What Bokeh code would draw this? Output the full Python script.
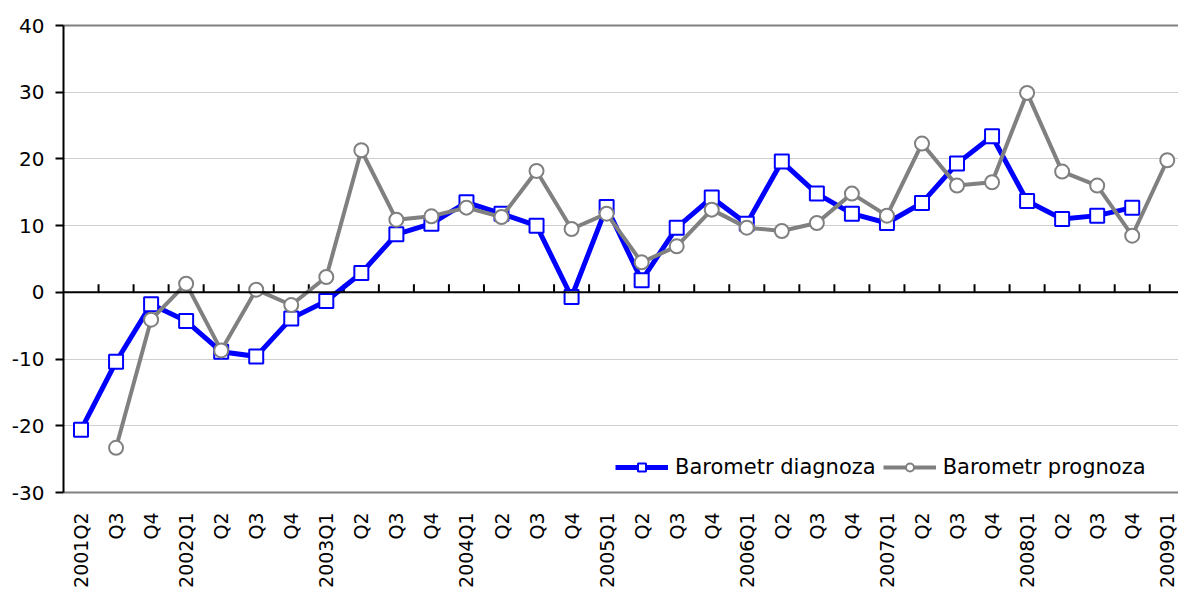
import math
from bokeh.plotting import figure
from bokeh.models import (Range1d, LinearAxis, FixedTicker, Legend, LegendItem, Span)
from bokeh.embed import file_html
from bokeh.resources import INLINE

categories = ["2001Q2", "Q3", "Q4", "2002Q1", "Q2", "Q3", "Q4", "2003Q1", "Q2", "Q3", "Q4",
              "2004Q1", "Q2", "Q3", "Q4", "2005Q1", "Q2", "Q3", "Q4", "2006Q1", "Q2", "Q3", "Q4",
              "2007Q1", "Q2", "Q3", "Q4", "2008Q1", "Q2", "Q3", "Q4", "2009Q1"]

nan = float("nan")
diagnoza = [-20.6, -10.4, -1.8, -4.3, -8.9, -9.6, -3.9, -1.3, 2.9, 8.7, 10.3,
            13.5, 11.8, 10.0, -0.7, 12.8, 1.8, 9.7, 14.2, 10.3, 19.6, 14.8, 11.8,
            10.4, 13.4, 19.3, 23.4, 13.7, 11.0, 11.5, 12.7, nan]
prognoza = [nan, -23.3, -4.1, 1.3, -8.7, 0.4, -1.9, 2.3, 21.3, 10.9, 11.4,
            12.7, 11.3, 18.2, 9.5, 11.8, 4.5, 6.9, 12.4, 9.7, 9.2, 10.4, 14.8,
            11.5, 22.3, 16.0, 16.5, 29.9, 18.1, 16.0, 8.5, 19.8]
y_ticks = [-30, -20, -10, 0, 10, 20, 30, 40]
y_tick_labels = ["-30", "-20", "-10", "0", "10", "20", "30", "40"]
series_names = ["Barometr diagnoza", "Barometr prognoza"]

FONT = "DejaVu Sans"
n = len(categories)
xs = [i + 0.5 for i in range(n)]
bounds = list(range(1, n))

FRAME_W, FRAME_H = 1115, 467
Y0, Y1 = -30, 40

p = figure(frame_width=FRAME_W, frame_height=FRAME_H, output_backend="svg", toolbar_location=None,
           x_range=Range1d(0, FRAME_W / 35.04), y_range=Range1d(Y0, Y1),
           x_axis_location=None, y_axis_location=None,
           min_border_left=63, min_border_top=25, min_border_right=0, min_border_bottom=0)
p.background_fill_color = "white"
p.border_fill_color = "white"
p.outline_line_color = None
p.xgrid.visible = False
p.ygrid.ticker = FixedTicker(ticks=y_ticks)
p.ygrid.grid_line_color = "#cfcfcf"
p.ygrid.grid_line_width = 1

# y axis
yax = LinearAxis(ticker=FixedTicker(ticks=y_ticks),
                 major_label_overrides={t: s for t, s in zip(y_ticks, y_tick_labels)})
yax.axis_line_color = "black"
yax.axis_line_width = 2
yax.major_tick_line_color = "black"
yax.major_tick_line_width = 2
yax.major_tick_out = 8
yax.major_tick_in = 0
yax.minor_tick_line_color = None
yax.major_label_standoff = 11
yax.major_label_text_font = FONT
yax.major_label_text_font_size = "20px"
yax.major_label_text_color = "black"
p.add_layout(yax, "left")

# category labels axis at bottom
xax = LinearAxis(ticker=FixedTicker(ticks=xs),
                 major_label_overrides={x: c for x, c in zip(xs, categories)})
xax.axis_line_color = "#808080"
xax.axis_line_width = 2
xax.major_tick_line_color = None
xax.major_tick_out = 0
xax.major_tick_in = 0
xax.minor_tick_line_color = None
xax.major_label_orientation = math.pi / 2
xax.major_label_standoff = 20
xax.major_label_text_font = FONT
xax.major_label_text_font_size = "19px"
xax.major_label_text_color = "black"
p.add_layout(xax, "below")

# top border line
top = LinearAxis(ticker=FixedTicker(ticks=[]))
top.axis_line_color = "#808080"
top.axis_line_width = 2
top.major_tick_line_color = None
top.minor_tick_line_color = None
top.major_label_standoff = 0
p.add_layout(top, "above")

# zero line with category boundary ticks
p.add_layout(Span(location=0, dimension="width", line_color="black", line_width=2))
tick_len = 8 * (Y1 - Y0) / FRAME_H
p.segment(x0=bounds, y0=[0] * len(bounds), x1=bounds, y1=[tick_len] * len(bounds),
          line_color="black", line_width=2)

l1 = p.line(xs, diagnoza, line_color="#0000FF", line_width=5, line_join="round")
s1 = p.scatter(xs, diagnoza, marker="square", size=14, line_color="#0000FF", line_width=2,
               fill_color="white")
l2 = p.line(xs, prognoza, line_color="#808080", line_width=4, line_join="round")
s2 = p.scatter(xs, prognoza, marker="circle", size=14, line_color="#808080", line_width=2,
               fill_color="white")

legend = Legend(items=[LegendItem(label=series_names[0], renderers=[l1, s1]),
                       LegendItem(label=series_names[1], renderers=[l2, s2])],
                orientation="horizontal", location=(552, 13))
legend.border_line_alpha = 0
legend.background_fill_alpha = 0
legend.glyph_width = 53
legend.glyph_height = 20
legend.label_height = 20
legend.label_standoff = 7
legend.spacing = 7
legend.padding = 0
legend.margin = 0
legend.label_text_font = FONT
legend.label_text_font_size = "21px"
legend.label_text_color = "black"
p.add_layout(legend, "center")

open("out.html", "w").write(file_html(p, INLINE))
